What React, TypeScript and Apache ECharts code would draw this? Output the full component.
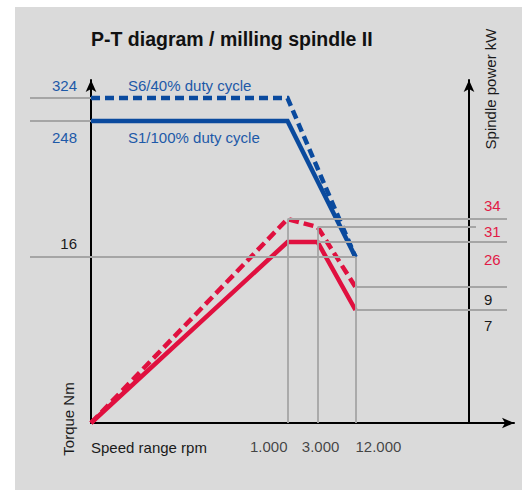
import React, { useEffect, useRef } from "react";
import * as echarts from "echarts";

// ---------------- Data ----------------
// Speed (rpm) tick values on the log speed axis
const speedTicks = [1000, 3000, 12000];
const speedTickLabels = ["1.000", "3.000", "12.000"];

// Torque curves (Nm): constant up to 1.000 rpm, falling to 16 Nm at 12.000 rpm
const torqueCornerSpeeds = [1000, 12000];
const torqueS6 = [324, 324, 16]; // S6/40% duty cycle (start, 1.000, 12.000)
const torqueS1 = [248, 248, 16]; // S1/100% duty cycle

// Power curves (kW) at start, 1.000, 3.000, 12.000 rpm
const powerCornerSpeeds = [1000, 3000, 12000];
const powerS6 = [0, 34, 31, 9];
const powerS1 = [0, 26, 26, 7];

// Axis tick labels
const torqueAxisTicks = [324, 248, 16];
const powerAxisTicks = [34, 31, 26, 9, 7];

// The diagram's vertical axes are schematic (not to scale):
// each marked level is drawn at its own height (axis units above the origin)
const torqueScaleValues = [0, 16, 248, 324];
const torqueScaleHeights = [0, 166, 302, 325];
const powerScaleValues = [0, 7, 9, 26, 31, 34];
const powerScaleHeights = [0, 113, 136, 181, 196, 204];

// ---------------- Layout / style ----------------
const AXIS_SPEED_MIN = 0.76;
const AXIS_SPEED_MAX = 3.94e6;
const Y_MAX = 343;
const torqueLabelShift = [13, -16, 14];
const powerLabelShift = [14, -4, -17, -12, -15];

const BLUE = "#0a4a9e";
const RED = "#e0103f";
const BLUE_TEXT = "#1d59a8";
const RED_TEXT = "#e11a47";
const BLACK_TEXT = "#1a1a1a";
const GRAY = "#a5a5a5";
const FONT = "'Liberation Sans', Arial, sans-serif";
const FS = 15;

const lookup = (vals: number[], hs: number[]) => (v: number) => hs[vals.indexOf(v)];
const tH = lookup(torqueScaleValues, torqueScaleHeights);
const pH = lookup(powerScaleValues, powerScaleHeights);

const torqueLabelHeights = torqueAxisTicks.map((v, i) => tH(v) + torqueLabelShift[i]);
const powerLabelHeights = powerAxisTicks.map((v, i) => pH(v) + powerLabelShift[i]);

const torqueSpeeds = [AXIS_SPEED_MIN, ...torqueCornerSpeeds];
const powerSpeeds = [AXIS_SPEED_MIN, ...powerCornerSpeeds];

const pairs = (xs: number[], ys: number[]) => xs.map((x, i) => [x, ys[i]]);

function buildOption(): any {
  const axisLine = {
    show: true,
    symbol: ["none", "arrow"],
    symbolSize: [8, 12],
    lineStyle: { color: "#000", width: 2 },
  };
  const gl = (a: any, b: any) => [a, b];
  return {
    animation: false,
    textStyle: { fontFamily: FONT },
    grid: { left: 91, right: 8, top: 80, bottom: 67, outerBoundsMode: "none", containLabel: false },
    xAxis: {
      type: "log",
      logBase: 10,
      min: AXIS_SPEED_MIN,
      max: AXIS_SPEED_MAX,
      axisLine,
      axisTick: { show: false },
      axisLabel: { show: false },
      splitLine: { show: false },
      minorTick: { show: false },
      minorSplitLine: { show: false },
    },
    yAxis: [
      {
        type: "value",
        min: 0,
        max: Y_MAX,
        position: "left",
        axisLine,
        axisTick: { show: false },
        splitLine: { show: false },
        axisLabel: {
          customValues: torqueLabelHeights,
          margin: 14,
          fontSize: FS,
          fontFamily: FONT,
          formatter: (v: any) => {
            const i = torqueLabelHeights.indexOf(Number(v));
            return i >= 0 ? String(torqueAxisTicks[i]) : "";
          },
          color: (v: any) => {
            const i = torqueLabelHeights.indexOf(Number(v));
            return i >= 0 && torqueAxisTicks[i] > 100 ? BLUE_TEXT : BLACK_TEXT;
          },
        },
      },
      {
        type: "value",
        min: 0,
        max: Y_MAX,
        position: "right",
        offset: -45,
        axisLine,
        axisTick: { show: false },
        splitLine: { show: false },
        axisLabel: {
          customValues: powerLabelHeights,
          margin: 15,
          fontSize: FS,
          fontFamily: FONT,
          formatter: (v: any) => {
            const i = powerLabelHeights.indexOf(Number(v));
            return i >= 0 ? String(powerAxisTicks[i]) : "";
          },
          color: (v: any) => {
            const i = powerLabelHeights.indexOf(Number(v));
            return i >= 0 && powerAxisTicks[i] > 20 ? RED_TEXT : BLACK_TEXT;
          },
        },
      },
    ],
    graphic: [
      {
        type: "rect",
        z: -10,
        silent: true,
        shape: { x: 15, y: 7, width: 507, height: 483 },
        style: { fill: "#dadada" },
      },
      {
        type: "text",
        x: 91,
        y: 38.5,
        style: {
          text: "P-T diagram / milling spindle II",
          fontFamily: "'Liberation Sans', Arial, sans-serif",
          fontWeight: "bold",
          fontSize: 19.5,
          fill: "#111",
          align: "left",
          verticalAlign: "middle",
        },
      },
      {
        type: "text",
        x: 128,
        y: 85,
        style: { text: "S6/40% duty cycle", fontFamily: FONT, fontSize: FS, fill: BLUE_TEXT, align: "left", verticalAlign: "middle" },
      },
      {
        type: "text",
        x: 128,
        y: 137,
        style: { text: "S1/100% duty cycle", fontFamily: FONT, fontSize: FS, fill: BLUE_TEXT, align: "left", verticalAlign: "middle" },
      },
      {
        type: "text",
        x: 91,
        y: 447,
        style: { text: "Speed range rpm", fontFamily: FONT, fontSize: FS, fill: BLACK_TEXT, align: "left", verticalAlign: "middle" },
      },
      {
        type: "text",
        x: 68,
        y: 419,
        rotation: Math.PI / 2,
        style: { text: "Torque Nm", fontFamily: FONT, fontSize: FS, fill: BLACK_TEXT, align: "center", verticalAlign: "middle" },
      },
      {
        type: "text",
        x: 490,
        y: 89,
        rotation: Math.PI / 2,
        style: { text: "Spindle power kW", fontFamily: FONT, fontSize: FS, fill: BLACK_TEXT, align: "center", verticalAlign: "middle" },
      },
    ],
    series: [
      {
        type: "line",
        name: "reference lines",
        data: [[AXIS_SPEED_MIN, 0]],
        symbol: "none",
        silent: true,
        clip: false,
        z: 1,
        lineStyle: { opacity: 0 },
        markLine: {
          silent: true,
          symbol: ["none", "none"],
          label: { show: false },
          emphasis: { disabled: true },
          lineStyle: { color: GRAY, width: 1.8, type: "solid" },
          data: [
            gl({ x: 30, yAxis: tH(324) }, { xAxis: AXIS_SPEED_MIN, yAxis: tH(324) }),
            gl({ x: 30, yAxis: tH(248) }, { xAxis: AXIS_SPEED_MIN, yAxis: tH(248) }),
            gl({ x: 30, yAxis: tH(16) }, { xAxis: 12000, yAxis: tH(16) }),
            gl({ xAxis: 1000, yAxis: pH(34) }, { xAxis: 1000, yAxis: 0 }),
            gl({ xAxis: 3000, yAxis: pH(31) }, { xAxis: 3000, yAxis: 0 }),
            gl({ xAxis: 12000, yAxis: tH(16) }, { xAxis: 12000, yAxis: 0 }),
            gl({ xAxis: 1000, yAxis: pH(34) }, { x: 507, yAxis: pH(34) }),
            gl({ xAxis: 3000, yAxis: pH(31) }, { x: 476, yAxis: pH(31) }),
            gl({ xAxis: 3000, yAxis: pH(26) }, { x: 507, yAxis: pH(26) }),
            gl({ xAxis: 12000, yAxis: pH(9) }, { x: 507, yAxis: pH(9) }),
            gl({ xAxis: 12000, yAxis: pH(7) }, { x: 507, yAxis: pH(7) }),
          ],
        },
      },
      {
        type: "line",
        name: "S1/100% torque",
        data: pairs(torqueSpeeds, torqueS1.map(tH)),
        symbol: "none",
        clip: false,
        z: 3,
        lineStyle: { color: BLUE, width: 4.5, join: "miter", cap: "butt" },
      },
      {
        type: "line",
        name: "S6/40% torque",
        data: pairs(torqueSpeeds, torqueS6.map(tH)),
        symbol: "none",
        clip: false,
        z: 4,
        lineStyle: { color: BLUE, width: 4.5, type: [9, 5], join: "miter", cap: "butt" },
      },
      {
        type: "line",
        name: "S1/100% power",
        data: pairs(powerSpeeds, powerS1.map(pH)),
        symbol: "none",
        clip: false,
        z: 3,
        lineStyle: { color: RED, width: 4.5, join: "miter", cap: "butt" },
      },
      {
        type: "line",
        name: "S6/40% power",
        data: pairs(powerSpeeds, powerS6.map(pH)),
        symbol: "none",
        clip: false,
        z: 4,
        lineStyle: { color: RED, width: 4.5, type: [10, 5], join: "miter", cap: "butt" },
      },
      {
        type: "scatter",
        name: "speed ticks",
        silent: true,
        clip: false,
        symbolSize: 0,
        itemStyle: { color: "transparent" },
        data: speedTicks.map((s, i) => ({
          value: [s, 0],
          label: i === 0 ? { align: "right" } : i === 2 ? { align: "left" } : { align: "center", offset: [3, 0] },
        })),
        label: {
          show: true,
          position: "bottom",
          distance: 16,
          fontSize: FS,
          fontFamily: FONT,
          color: BLACK_TEXT,
          formatter: (p: any) => speedTickLabels[p.dataIndex],
        },
      },
    ],
  };
}

export default function App() {
  const ref = useRef<HTMLDivElement>(null);
  useEffect(() => {
    document.body.style.margin = "0";
    const chart = echarts.init(ref.current!, null, { renderer: "svg" });
    chart.setOption(buildOption());
    return () => chart.dispose();
  }, []);
  return <div ref={ref} style={{ width: 522, height: 490 }} />;
}
